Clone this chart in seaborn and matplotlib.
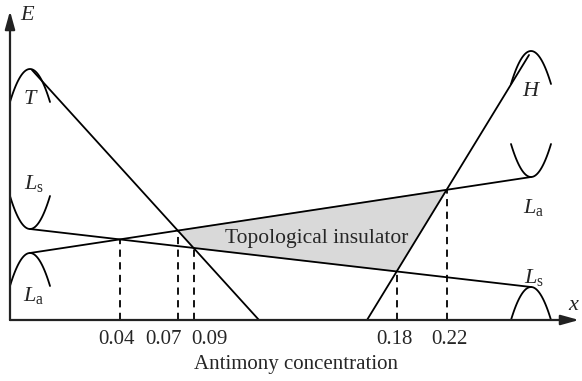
import numpy as np
import pandas as pd
import matplotlib
matplotlib.use("Agg")
import matplotlib.pyplot as plt
import seaborn as sns

# Antimony concentrations at which the bands cross
concentrations = [0.04, 0.07, 0.09, 0.18, 0.22]
tick_labels = ["0.04", "0.07", "0.09", "0.18", "0.22"]
# which pair of bands crosses at each concentration
crossing_pairs = [("Ls", "La"), ("T", "La"), ("T", "Ls"), ("H", "Ls"), ("H", "La")]

# Band-edge lines (schematic position, energy): start and end points
band_names = ["Ls", "La", "T", "H"]
band_start_x = [20, 20, 22, 357]
band_start_E = [91, 67, 250, 0]
band_end_x = [521, 521, 249, 519]
band_end_E = [33, 143, 0, 265]

# Band extrema drawn as small parabolas: centre, energy, opening (+1 up, -1 down)
ext_x = [20, 20, 20, 521, 521, 521]
ext_E = [251, 91, 67, 33, 143, 269]
ext_dir = [-1, 1, -1, -1, 1, -1]

sns.set_theme(style="white")
plt.rcParams["font.family"] = ["Liberation Serif", "DejaVu Serif"]
plt.rcParams["mathtext.fontset"] = "custom"
plt.rcParams["mathtext.rm"] = "Liberation Serif"
plt.rcParams["mathtext.it"] = "Liberation Serif:italic"

fig = plt.figure(figsize=(5.82, 3.81), dpi=100)
ax = fig.add_axes([0, 0, 1, 1])
ax.set_xlim(-10, 572)
ax.set_ylim(-61, 320)
ax.axis("off")

lines = pd.DataFrame({"band": band_names,
                      "x0": band_start_x, "E0": band_start_E,
                      "x1": band_end_x, "E1": band_end_E}).set_index("band")


def crossing(a, b):
    p, q = lines.loc[a], lines.loc[b]
    m1 = (p.E1 - p.E0) / (p.x1 - p.x0)
    m2 = (q.E1 - q.E0) / (q.x1 - q.x0)
    x = (q.E0 - p.E0 + m1 * p.x0 - m2 * q.x0) / (m1 - m2)
    return x, p.E0 + m1 * (x - p.x0)


# shaded topological-insulator region
corners = [crossing("T", "La"), crossing("H", "La"), crossing("H", "Ls"), crossing("T", "Ls")]
ax.fill([c[0] for c in corners], [c[1] for c in corners], color="#d9d9d9", zorder=1)

# band-edge lines
seg = pd.concat([
    pd.DataFrame({"x": [r.x0, r.x1], "E": [r.E0, r.E1], "band": name})
    for name, r in lines.iterrows()
])
sns.lineplot(data=seg, x="x", y="E", units="band", estimator=None,
             color="black", lw=1.3, ax=ax, zorder=3, sort=False)

# band extrema
half, depth = 20, 33
for cx, cE, d in zip(ext_x, ext_E, ext_dir):
    u = np.linspace(-half, half, 60)
    ax.plot(cx + u, cE + d * depth * (u / half) ** 2, color="black", lw=1.3, zorder=3)

# dashed drops to the concentration axis, labels nudged apart where crowded
label_shift = [-3, -14, 16, -2, 3]
for (a, b), lab, dx in zip(crossing_pairs, tick_labels, label_shift):
    cx, cE = crossing(a, b)
    ax.plot([cx, cx], [0, cE], color="black", lw=1.3, ls=(0, (4, 3)), zorder=2)
    ax.text(cx + dx, -19, lab, ha="center", va="center", fontsize=15)

# axes arrows
arrow = dict(arrowstyle="-|>,head_length=0.9,head_width=0.25", color="#222222", lw=1.6,
             shrinkA=0, shrinkB=0)
ax.annotate("", xy=(0, 309), xytext=(0, 0), arrowprops=arrow, zorder=4)
ax.annotate("", xy=(569, 0), xytext=(0, 0), arrowprops=arrow, zorder=4)

ax.text(18, 304, "$E$", fontsize=16, ha="center", va="center")
ax.text(564, 15, "$x$", fontsize=16, ha="center", va="center")
ax.text(21, 220, "$T$", fontsize=16, ha="center", va="center")
ax.text(24, 137, r"$L_{\mathrm{s}}$", fontsize=16, ha="center", va="center")
ax.text(24, 25, r"$L_{\mathrm{a}}$", fontsize=16, ha="center", va="center")
ax.text(522, 228, "$H$", fontsize=16, ha="center", va="center")
ax.text(524, 113, r"$L_{\mathrm{a}}$", fontsize=16, ha="center", va="center")
ax.text(524, 43, r"$L_{\mathrm{s}}$", fontsize=16, ha="center", va="center")
ax.text(307, 82, "Topological insulator", fontsize=15.5, ha="center", va="center")
ax.text(286, -45, "Antimony concentration", fontsize=15, ha="center", va="center")

fig.savefig("out.png", dpi=100)
